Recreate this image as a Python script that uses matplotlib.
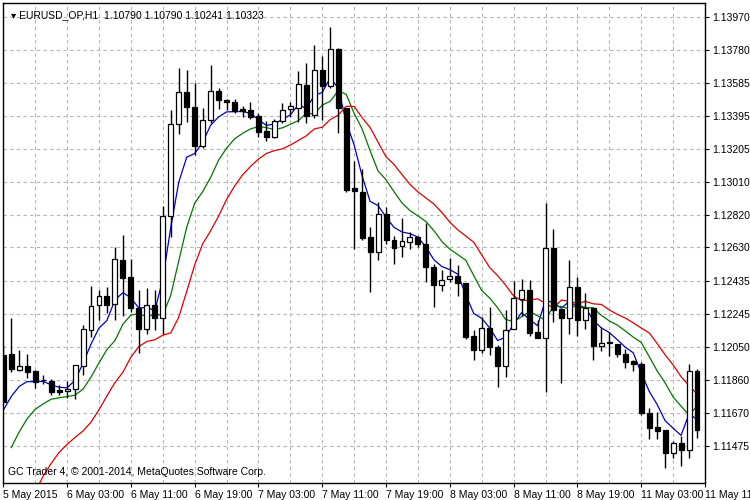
import matplotlib
matplotlib.use("Agg")
import matplotlib.pyplot as plt
import numpy as np

opens = [112004,112010,111917,111940,111911,111859,111853,111801,111795,111807,
 111940,112150,112295,112348,112301,112557,112458,112278,112156,112295,
 112219,112813,113348,113534,113447,113220,113371,113540,113487,113476,
 113435,113429,113394,113307,113272,113365,113435,113441,113576,113400,
 113662,113570,113784,113441,112976,112952,112691,112603,112824,112673,
 112638,112662,112691,112650,112516,112411,112447,112464,112423,112115,
 112033,112161,112051,111940,112156,112331,112383,112138,112103,112627,
 112272,112219,112400,112208,112278,112057,112075,112069,112010,111969,
 111952,111667,111586,111568,111434,111492,111453,111911]
closes = [111731,111923,111940,111905,111847,111857,111789,111789,111807,111946,
 112156,112289,112348,112295,112563,112452,112278,112156,112295,112219,
 112813,113348,113534,113447,113220,113371,113540,113487,113476,113423,
 113423,113389,113301,113272,113365,113429,113453,113581,113394,113662,
 113570,113784,113441,112964,112958,112686,112603,112824,112673,112627,
 112667,112691,112650,112516,112411,112441,112464,112423,112109,112033,
 112161,112051,111940,112150,112337,112383,112132,112103,112627,112266,
 112219,112400,112208,112278,112057,112075,112081,112010,111964,111952,
 111667,111580,111562,111434,111492,111453,111911,111568]
highs = [112062,112219,112033,112010,111917,111888,111865,111830,111853,111946,
 112179,112406,112383,112400,112633,112702,112563,112383,112394,112383,
 112871,113429,113674,113662,113586,113441,113691,113557,113493,113493,
 113453,113476,113412,113365,113378,113470,113476,113656,113703,113807,
 113744,113912,113790,113441,113133,113086,112749,112894,112865,112697,
 112801,112720,112697,112772,112534,112499,112569,112528,112423,112150,
 112225,112284,112062,112266,112435,112446,112441,112208,112888,112737,
 112272,112557,112458,112366,112278,112167,112138,112069,112039,111975,
 111964,111696,111673,111568,111504,111533,111952,111923]
lows = [111731,111905,111911,111871,111812,111836,111772,111772,111754,111748,
 111888,112109,112208,112249,112208,112231,112254,112016,112126,112150,
 112126,112691,113290,113359,113168,113208,113354,113435,113429,113412,
 113389,113378,113272,113249,113266,113354,113389,113359,113354,113383,
 113371,113557,113296,112952,112621,112673,112371,112557,112650,112534,
 112574,112621,112633,112429,112284,112377,112429,112348,112097,111975,
 112016,112004,111818,111876,112156,112231,112115,112103,111789,112196,
 111841,112126,112115,112156,111975,112028,111999,111993,111930,111911,
 111655,111516,111516,111347,111405,111360,111405,111522]

ma_periods = [5, 9, 14]
ma_shifts = [0, 1, 2]
ma_colors = ["#0000c8", "#007800", "#e00000"]
ma_seeds = [111660, 111400, 110850]

yticks = [1.11475,1.11670,1.11860,1.12050,1.12245,1.12435,1.12630,1.12820,
          1.13010,1.13205,1.13395,1.13585,1.13780,1.13970]
xlabels = ["5 May 2015","6 May 03:00","6 May 11:00","6 May 19:00","7 May 03:00",
           "7 May 11:00","7 May 19:00","8 May 03:00","8 May 11:00","8 May 19:00",
           "11 May 03:00","11 May 11"]

FAM = ["Liberation Sans", "DejaVu Sans"]
o = np.array(opens)/1e5; c = np.array(closes)/1e5
h = np.array(highs)/1e5; l = np.array(lows)/1e5
n = len(o); idx = np.arange(n)

fig = plt.figure(figsize=(7.5,5), dpi=100)
ax = fig.add_axes([2.5/750, 17/500, (705-2.5)/750, 480/500])
ax.set_xlim(-0.1, 87.7)
ax.set_ylim(1.11260, 1.14052)

for v in yticks:
    ax.axhline(v, color="#b4b4b4", ls=(0,(3,3)), lw=0.8, zorder=0)
for i in range(4, n, 4):
    ax.axvline(i, color="#b4b4b4", ls=(0,(3,3)), lw=0.8, zorder=0)

for p, sh, col, s in zip(ma_periods, ma_shifts, ma_colors, ma_seeds):
    a = 2/(p+1); e = s/1e5; vals = []
    for x in c:
        e = e + a*(x-e); vals.append(e)
    ax.plot(idx[:n-sh] + sh, vals[:n-sh], color=col, lw=0.9, zorder=2)

ax.vlines(idx, l, h, color="black", lw=1, zorder=3)
up = c >= o
bot = np.minimum(o, c); ht = np.maximum(np.abs(c-o), 0.00002)
ax.bar(idx, ht, bottom=bot, width=0.62, color=np.where(up, "white", "black"),
       edgecolor="black", lw=0.9, zorder=4)

ax.yaxis.tick_right()
ax.set_yticks(yticks)
ax.set_yticklabels([f"{v:.5f}" for v in yticks], fontsize=7.5, family=FAM)
ax.tick_params(axis="y", length=3, pad=2)
ax.set_xticks(range(0, 89, 8))
ax.set_xticklabels(xlabels, fontsize=7.5, ha="left", family=FAM)
ax.tick_params(axis="x", length=3, pad=2)
for sp in ax.spines.values():
    sp.set_color("black"); sp.set_linewidth(1)

ax.text(0.012, 0.985, "\u25be EURUSD_OP,H1  1.10790 1.10790 1.10241 1.10323",
        transform=ax.transAxes, fontsize=7.5, va="top", ha="left", family=FAM)
ax.text(0.008, 0.012, "GC Trader 4, \u00a9 2001-2014, MetaQuotes Software Corp.",
        transform=ax.transAxes, fontsize=7.5, va="bottom", ha="left", family=FAM)

fig.savefig("out.png", dpi=100)
